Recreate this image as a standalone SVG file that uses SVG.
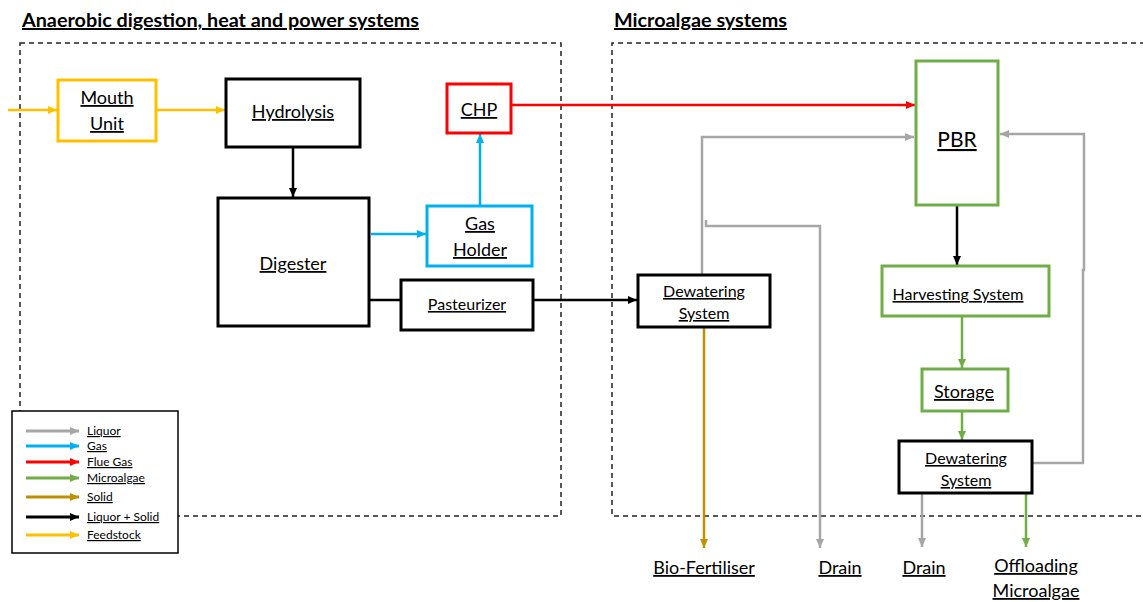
<svg xmlns="http://www.w3.org/2000/svg" width="1143" height="602" viewBox="0 0 1143 602">
<style>
text{font-family:Lato,"Liberation Sans",sans-serif;fill:#000;text-anchor:middle;text-decoration:underline}
.title{font-weight:bold;font-size:19.8px;text-anchor:start}
.n{font-size:18px}
.s{font-size:16px}
.leg{font-size:12px;text-anchor:start}
.dash{fill:none;stroke:#222;stroke-width:1.5;stroke-dasharray:5,4}
.box{fill:#fff;stroke-width:3}
.c{fill:none;stroke-width:2.5}
</style>
<defs>
<marker id="ag" markerUnits="userSpaceOnUse" markerWidth="10" markerHeight="10" refX="9" refY="5" orient="auto"><path d="M0,1 L9,5 L0,9 z" fill="#A6A6A6"/></marker>
<marker id="ab" markerUnits="userSpaceOnUse" markerWidth="10" markerHeight="10" refX="9" refY="5" orient="auto"><path d="M0,1 L9,5 L0,9 z" fill="#00B0F0"/></marker>
<marker id="ar" markerUnits="userSpaceOnUse" markerWidth="10" markerHeight="10" refX="9" refY="5" orient="auto"><path d="M0,1 L9,5 L0,9 z" fill="#FF0000"/></marker>
<marker id="agr" markerUnits="userSpaceOnUse" markerWidth="10" markerHeight="10" refX="9" refY="5" orient="auto"><path d="M0,1 L9,5 L0,9 z" fill="#70AD47"/></marker>
<marker id="ao" markerUnits="userSpaceOnUse" markerWidth="10" markerHeight="10" refX="9" refY="5" orient="auto"><path d="M0,1 L9,5 L0,9 z" fill="#BF9000"/></marker>
<marker id="ak" markerUnits="userSpaceOnUse" markerWidth="10" markerHeight="10" refX="9" refY="5" orient="auto"><path d="M0,1 L9,5 L0,9 z" fill="#000"/></marker>
<marker id="ay" markerUnits="userSpaceOnUse" markerWidth="10" markerHeight="10" refX="9" refY="5" orient="auto"><path d="M0,1 L9,5 L0,9 z" fill="#FFC000"/></marker>
</defs>
<rect width="1143" height="602" fill="#fff"/>

<g id="regions">
<text class="title" x="22" y="27">Anaerobic digestion, heat and power systems </text>
<text class="title" x="614" y="27">Microalgae systems </text>
<rect class="dash" x="20" y="43" width="541" height="473"/>
<path class="dash" d="M1145,43 H612 V516 H1145"/>
</g>

<g id="connectors">
<path class="c" stroke="#FFC000" d="M8,110 H57" marker-end="url(#ay)"/>
<path class="c" stroke="#FFC000" d="M157,110 H225" marker-end="url(#ay)"/>
<path class="c" stroke="#000" d="M293,148 V197" marker-end="url(#ak)"/>
<path class="c" stroke="#00B0F0" d="M371,234 H426" marker-end="url(#ab)"/>
<path class="c" stroke="#00B0F0" d="M480,206 V134" marker-end="url(#ab)"/>
<path class="c" stroke="#FF0000" d="M512,105 H915" marker-end="url(#ar)"/>
<path class="c" stroke="#000" d="M370,300 H401"/>
<path class="c" stroke="#000" d="M534,300 H637" marker-end="url(#ak)"/>
<path class="c" stroke="#A6A6A6" d="M702,275 V137 H914" marker-end="url(#ag)"/>
<path class="c" stroke="#A6A6A6" d="M706,220 V226 H820 V548" marker-end="url(#ag)"/>
<path class="c" stroke="#BF9000" d="M704,328 V548" marker-end="url(#ao)"/>
<path class="c" stroke="#000" d="M957,206 V265" marker-end="url(#ak)"/>
<path class="c" stroke="#70AD47" d="M962,317 V368" marker-end="url(#agr)"/>
<path class="c" stroke="#70AD47" d="M962,412 V440" marker-end="url(#agr)"/>
<path class="c" stroke="#A6A6A6" d="M1033,463 H1083 V270 H1084 V134 H1000" marker-end="url(#ag)"/>
<path class="c" stroke="#A6A6A6" d="M922,494 V547" marker-end="url(#ag)"/>
<path class="c" stroke="#70AD47" d="M1026,494 V547" marker-end="url(#agr)"/>
</g>

<g id="mouth-unit"><rect class="box" x="58" y="80" width="98" height="61" stroke="#FFC000"/><text class="n" x="107" y="104">Mouth</text><text class="n" x="107" y="130">Unit</text></g>
<g id="hydrolysis"><rect class="box" x="226" y="79" width="134" height="68" stroke="#000"/><text class="n" x="293" y="118">Hydrolysis</text></g>
<g id="digester"><rect class="box" x="218" y="198" width="151" height="128" stroke="#000"/><text class="n" x="293" y="270">Digester</text></g>
<g id="gas-holder"><rect class="box" x="427" y="206" width="105" height="60" stroke="#00B0F0"/><text class="n" x="480" y="230">Gas</text><text class="n" x="480" y="256">Holder</text></g>
<g id="chp"><rect class="box" x="447" y="84" width="64" height="49" stroke="#FF0000"/><text class="n" x="479" y="116">CHP</text></g>
<g id="pasteurizer"><rect class="box" x="401" y="280" width="132" height="50" stroke="#000"/><text class="s" x="467" y="310">Pasteurizer</text></g>
<g id="dewatering-1"><rect class="box" x="638" y="275" width="132" height="52" stroke="#000"/><text class="s" x="704" y="297">Dewatering</text><text class="s" x="704" y="319">System</text></g>
<g id="pbr"><rect class="box" x="916" y="61" width="82" height="144" stroke="#70AD47"/><text x="957" y="147" font-size="21">PBR</text></g>
<g id="harvesting"><rect class="box" x="882" y="266" width="167" height="50" stroke="#70AD47"/><text class="s" x="958" y="300">Harvesting System</text></g>
<g id="storage"><rect class="box" x="922" y="369" width="86" height="42" stroke="#70AD47"/><text class="n" x="964" y="398">Storage</text></g>
<g id="dewatering-2"><rect class="box" x="899" y="441" width="133" height="52" stroke="#000"/><text class="s" x="966" y="464">Dewatering</text><text class="s" x="966" y="486">System</text></g>
<g id="bio-fertiliser"><text class="n" x="704" y="574">Bio-Fertiliser</text></g>
<g id="drain-1"><text class="n" x="840" y="574">Drain</text></g>
<g id="drain-2"><text class="n" x="924" y="574">Drain</text></g>
<g id="offloading"><text class="n" x="1036" y="572">Offloading</text><text class="n" x="1036" y="597">Microalgae</text></g>

<g id="legend">
<rect x="12" y="411" width="166" height="142" fill="#fff" stroke="#000" stroke-width="1.5"/>
<g stroke-width="3">
<path d="M26,431 H79" stroke="#A6A6A6" marker-end="url(#ag)"/>
<path d="M26,446 H79" stroke="#00B0F0" marker-end="url(#ab)"/>
<path d="M26,462 H79" stroke="#FF0000" marker-end="url(#ar)"/>
<path d="M26,478 H79" stroke="#70AD47" marker-end="url(#agr)"/>
<path d="M26,497 H79" stroke="#BF9000" marker-end="url(#ao)"/>
<path d="M26,517 H79" stroke="#000" marker-end="url(#ak)"/>
<path d="M26,535 H79" stroke="#FFC000" marker-end="url(#ay)"/>
</g>
<text class="leg" x="87" y="435">Liquor</text>
<text class="leg" x="87" y="450">Gas</text>
<text class="leg" x="87" y="466">Flue Gas</text>
<text class="leg" x="87" y="482">Microalgae</text>
<text class="leg" x="87" y="501">Solid</text>
<text class="leg" x="87" y="521">Liquor + Solid</text>
<text class="leg" x="87" y="539">Feedstock</text>
</g>
</svg>
